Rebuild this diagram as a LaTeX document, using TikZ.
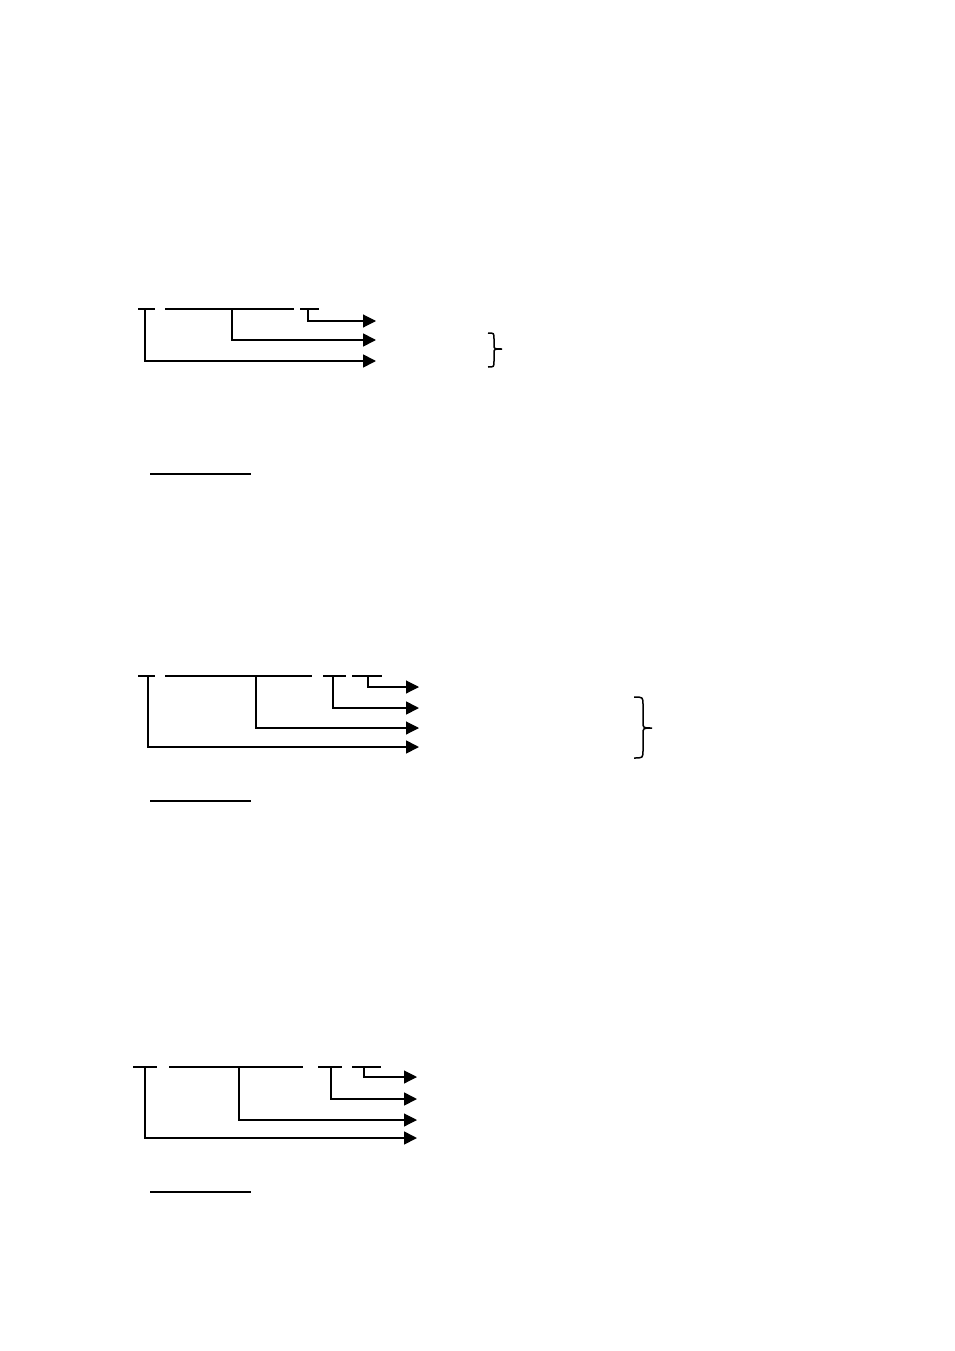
\documentclass[tikz,border=0pt]{standalone}
\usepackage{amsmath}
\usepackage{tikz}
\usetikzlibrary{arrows.meta}

\begin{document}
\begin{tikzpicture}[x=1pt,y=-1pt,
  bar/.style={line width=1.4pt},
  arr/.style={line width=1.7pt,-{Triangle[length=13pt,width=13pt]}},
  arrthin/.style={line width=1.1pt,-{Triangle[length=13pt,width=13pt]}},
  ul/.style={line width=2pt},
  brc/.style={line width=1.5pt}]
\useasboundingbox (0,0) rectangle (954,1351);
% first group
\draw[bar] (138,309) -- (155,309);
\draw[bar] (165,309) -- (294,309);
\draw[bar] (300,309) -- (319,309);
\draw[arrthin] (308,309)coordinate(A1) |- (376,321)coordinate(B1);
\draw[arr] (232,309)coordinate(A2) |- (376,340)coordinate(B2);
\draw[arr] (145,309)coordinate(A3) |- (376,361)coordinate(B3);
\draw[brc] (488,333) .. controls (494,333) .. (494,339) -- (494,345)
  .. controls (494,349) .. (502,349) .. controls (494,349) .. (494,353)
  -- (494,361) .. controls (494,367) .. (488,367);
\draw[ul] (150,474) -- (251,474);
% second group
\draw[bar] (138,676) -- (155,676);
\draw[bar] (165,676) -- (312,676);
\draw[bar] (323,676) -- (346,676);
\draw[bar] (352,676) -- (382,676);
\draw[arrthin] (368,676)coordinate(C1) |- (419,687)coordinate(D1);
\draw[arr] (333,676)coordinate(C2) |- (419,708)coordinate(D2);
\draw[arrthin] (256,676)coordinate(C3) |- (419,728)coordinate(D3);
\draw[arr] (148,676)coordinate(C4) |- (419,747)coordinate(D4);
\draw[brc] (634,697) .. controls (643,697) .. (643,705) -- (643,722)
  .. controls (643,728) .. (652,728) .. controls (643,728) .. (643,734)
  -- (643,750) .. controls (643,758) .. (634,758);
\draw[ul] (150,801) -- (251,801);
% third group
\draw[bar] (133,1067) -- (157,1067);
\draw[bar] (169,1067) -- (303,1067);
\draw[bar] (318,1067) -- (342,1067);
\draw[line width=1.1pt] (352,1067) -- (381,1067);
\draw[arrthin] (364,1067)coordinate(E1) |- (417,1077)coordinate(F1);
\draw[arr] (331,1067)coordinate(E2) |- (417,1099)coordinate(F2);
\draw[arrthin] (239,1067)coordinate(E3) |- (417,1120)coordinate(F3);
\draw[arr] (145,1067)coordinate(E4) |- (417,1138)coordinate(F4);
\draw[ul] (150,1192) -- (251,1192);
\end{tikzpicture}
\end{document}
